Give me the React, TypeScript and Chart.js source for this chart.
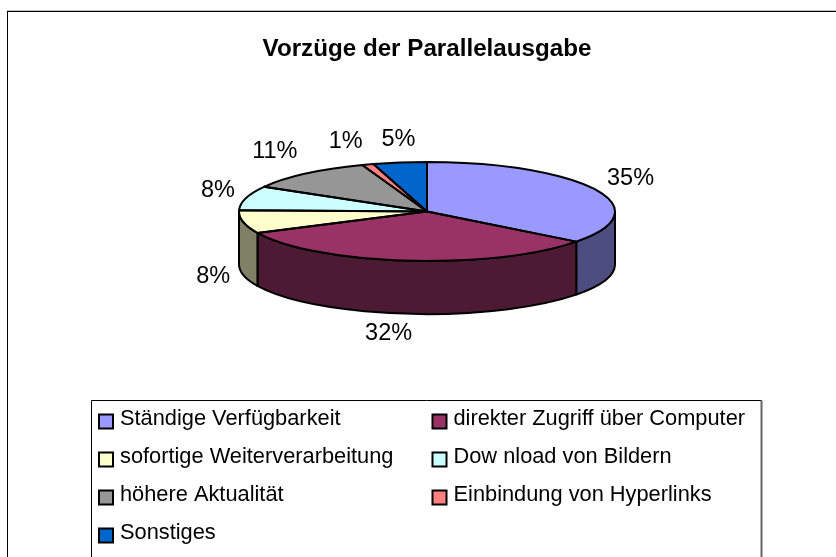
import React, { useEffect, useRef } from "react";
import { Chart, registerables } from "chart.js";

Chart.register(...registerables);

const titleText = "Vorzüge der Parallelausgabe";
const categories = [
  "Ständige Verfügbarkeit",
  "direkter Zugriff über Computer",
  "sofortige Weiterverarbeitung",
  "Dow nload von Bildern",
  "höhere Aktualität",
  "Einbindung von Hyperlinks",
  "Sonstiges",
];
const values = [35.4, 32.49, 7.51, 7.9, 11.1, 1.0, 4.6];
const topColors = ["#9999FF", "#993366", "#FFFFCC", "#CCFFFF", "#969696", "#FF8080", "#0066CC"];
const wallColors = ["#4D4D80", "#4D1A33", "#808066", "#668080", "#4B4B4B", "#804040", "#003366"];
const labelOffsets = [
  [35, -11],
  [-19, 20],
  [-30, 2],
  [-28, -8],
  [-31, -22],
  [-22, -23],
  [-1.5, -23],
];

const FONT = '"Liberation Sans", Arial, sans-serif';
const RX = 188;
const RY = 49.5;
const DEPTH = 53;
const SQUASH = RY / RX;

function squashedPie() {
  return {
    id: "squashedPie",
    beforeDraw(chart: any) {
      const { ctx, width, height } = chart;
      ctx.save();
      ctx.fillStyle = "#FFFFFF";
      ctx.fillRect(0, 0, width, height);
      // chart frame
      ctx.fillStyle = "#BDBDBD";
      ctx.fillRect(7, 10, width - 7, 1);
      ctx.fillStyle = "#000000";
      ctx.fillRect(7, 11, width - 7, 1);
      ctx.fillRect(7, 11, 1, height - 11);
      ctx.restore();
    },
    beforeDatasetDraw(chart: any) {
      const { ctx } = chart;
      const arcs = chart.getDatasetMeta(0).data;
      const cx = arcs[0].x;
      const cy = arcs[0].y;
      ctx.save();
      ctx.lineWidth = 2;
      ctx.strokeStyle = "#000000";
      ctx.lineJoin = "round";
      arcs.forEach((arc: any, i: number) => {
        const a = Math.max(arc.startAngle, 0);
        const b = Math.min(arc.endAngle, Math.PI);
        if (b <= a) return;
        ctx.beginPath();
        ctx.ellipse(cx, cy, RX, RY, 0, a, b);
        ctx.ellipse(cx, cy + DEPTH, RX, RY, 0, b, a, true);
        ctx.closePath();
        ctx.fillStyle = wallColors[i];
        ctx.fill();
        ctx.stroke();
      });
      ctx.restore();
      ctx.save();
      ctx.translate(cx, cy);
      ctx.scale(1, SQUASH);
      ctx.translate(-cx, -cy);
    },
    afterDatasetDraw(chart: any) {
      const { ctx } = chart;
      ctx.restore();
      const arcs = chart.getDatasetMeta(0).data;
      const cx = arcs[0].x;
      const cy = arcs[0].y;
      const total = values.reduce((s, v) => s + v, 0);
      ctx.save();
      ctx.lineWidth = 2;
      ctx.strokeStyle = "#000000";
      ctx.lineJoin = "round";
      arcs.forEach((arc: any) => {
        ctx.beginPath();
        ctx.moveTo(cx, cy);
        ctx.ellipse(cx, cy, RX, RY, 0, arc.startAngle, arc.endAngle);
        ctx.closePath();
        ctx.stroke();
      });
      ctx.fillStyle = "#000000";
      ctx.font = `23.5px ${FONT}`;
      ctx.textAlign = "center";
      ctx.textBaseline = "middle";
      arcs.forEach((arc: any, i: number) => {
        const mid = (arc.startAngle + arc.endAngle) / 2;
        const front = Math.sin(mid) > 0;
        const x = cx + RX * Math.cos(mid) + labelOffsets[i][0];
        const y = cy + RY * Math.sin(mid) + (front ? DEPTH : 0) + labelOffsets[i][1];
        ctx.fillText(`${Math.round((values[i] / total) * 100)}%`, x, y);
      });
      ctx.restore();
    },
    afterDraw(chart: any) {
      const { ctx, height } = chart;
      ctx.save();
      // legend frame, open at the bottom edge of the picture
      ctx.strokeStyle = "#000000";
      ctx.lineWidth = 1;
      ctx.beginPath();
      ctx.moveTo(91.5, height);
      ctx.lineTo(91.5, 400.5);
      ctx.lineTo(761.5, 400.5);
      ctx.stroke();
      ctx.strokeStyle = "#666666";
      ctx.lineWidth = 2;
      ctx.beginPath();
      ctx.moveTo(761.5, 400.5);
      ctx.lineTo(761.5, height);
      ctx.stroke();
      ctx.font = `21.8px ${FONT}`;
      ctx.textBaseline = "middle";
      ctx.textAlign = "left";
      categories.forEach((name, i) => {
        const col = i % 2;
        const row = Math.floor(i / 2);
        const boxX = col === 0 ? 99 : 432.5;
        const rowY = 419 + row * 38;
        ctx.fillStyle = topColors[i];
        ctx.fillRect(boxX, rowY - 4.5, 14, 14);
        ctx.strokeStyle = "#000000";
        ctx.lineWidth = 2;
        ctx.strokeRect(boxX, rowY - 4.5, 14, 14);
        ctx.fillStyle = "#000000";
        ctx.fillText(name, boxX + 21, rowY);
      });
      ctx.restore();
    },
  };
}

export default function App() {
  const ref = useRef<HTMLCanvasElement>(null);
  useEffect(() => {
    const chart = new Chart(ref.current as HTMLCanvasElement, {
      type: "pie",
      data: {
        labels: categories,
        datasets: [
          {
            data: values,
            backgroundColor: topColors,
            borderWidth: 0,
          },
        ],
      },
      options: {
        responsive: false,
        animation: false,
        radius: RX,
        layout: { padding: { left: 239, right: 221, top: 0, bottom: 199 } },
        plugins: {
          legend: { display: false },
          tooltip: { enabled: false },
          title: {
            display: true,
            text: titleText,
            color: "#000000",
            font: { family: FONT, size: 24.2, weight: "bold" },
            padding: { top: 35, bottom: 1 },
          },
        },
      } as any,
      plugins: [squashedPie()],
    });
    return () => chart.destroy();
  }, []);
  return (
    <canvas
      ref={ref}
      width={836}
      height={557}
      style={{ position: "absolute", left: 0, top: 0, display: "block" }}
    />
  );
}
